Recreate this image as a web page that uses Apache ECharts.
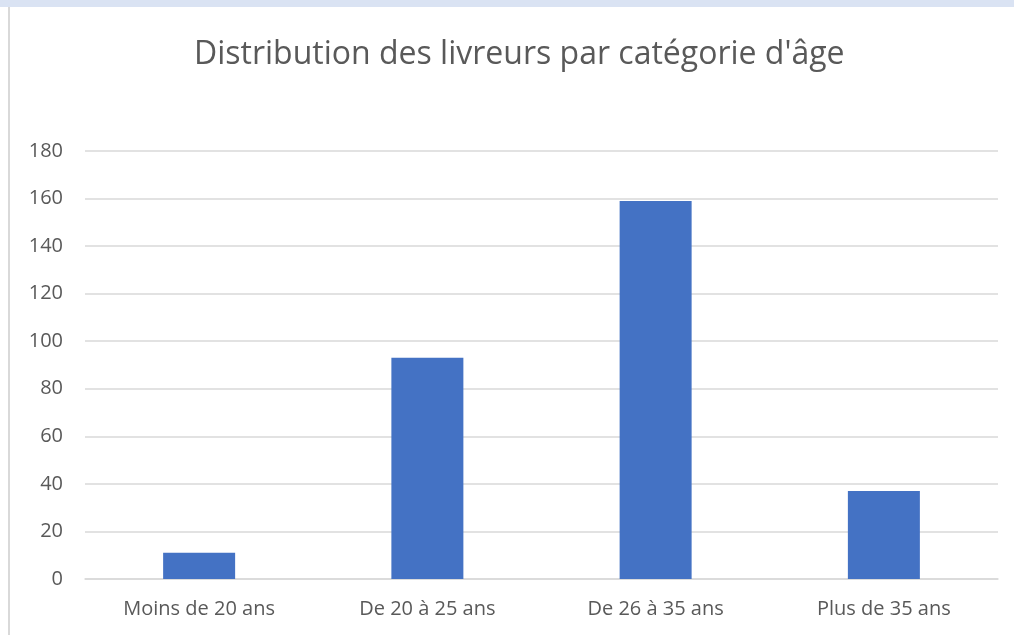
<!DOCTYPE html>
<html>
<head>
<meta charset="utf-8">
<script src="https://cdn.jsdelivr.net/npm/echarts@6/dist/echarts.min.js"></script>
<style>
html, body { margin: 0; padding: 0; background: #fff; }
.band { position: absolute; left: 0; top: 0; width: 1014px; height: 7px; background: #dae3f3; }
.edge { position: absolute; left: 8px; top: 7px; width: 2px; height: 628px; background: #d9d9d9; }
#chart { position: absolute; left: 0; top: 0; width: 1014px; height: 635px; }
</style>
</head>
<body>
<div class="band"></div>
<div class="edge"></div>
<div id="chart"></div>
<script>
const categories = ['Moins de 20 ans', 'De 20 à 25 ans', 'De 26 à 35 ans', 'Plus de 35 ans']
const livreurs = [11, 93, 159, 37]

const chart = echarts.init(document.getElementById('chart'))
chart.setOption({
  animation: false,
  title: {
    text: 'Distribution des livreurs par catégorie d\'âge',
    left: 189,
    top: 34,
    textStyle: { fontFamily: 'Open Sans', fontSize: 32, fontWeight: 'normal', color: '#595959' }
  },
  grid: { left: 85, right: 16, top: 151, bottom: 56 },
  xAxis: {
    type: 'category',
    data: categories,
    axisLine: { lineStyle: { color: '#d9d9d9', width: 1.5 } },
    axisTick: { show: false },
    axisLabel: { fontFamily: 'Open Sans', fontSize: 20, color: '#595959', margin: 20 }
  },
  yAxis: {
    type: 'value',
    min: 0,
    max: 180,
    interval: 20,
    axisLine: { show: false },
    axisTick: { show: false },
    splitLine: { lineStyle: { color: '#d9d9d9', width: 1.5 } },
    axisLabel: { fontFamily: 'Open Sans', fontSize: 20, color: '#595959', margin: 22 }
  },
  series: [{
    type: 'bar',
    data: livreurs,
    barWidth: 72,
    itemStyle: { color: '#4472c4' }
  }]
})
</script>
</body>
</html>
